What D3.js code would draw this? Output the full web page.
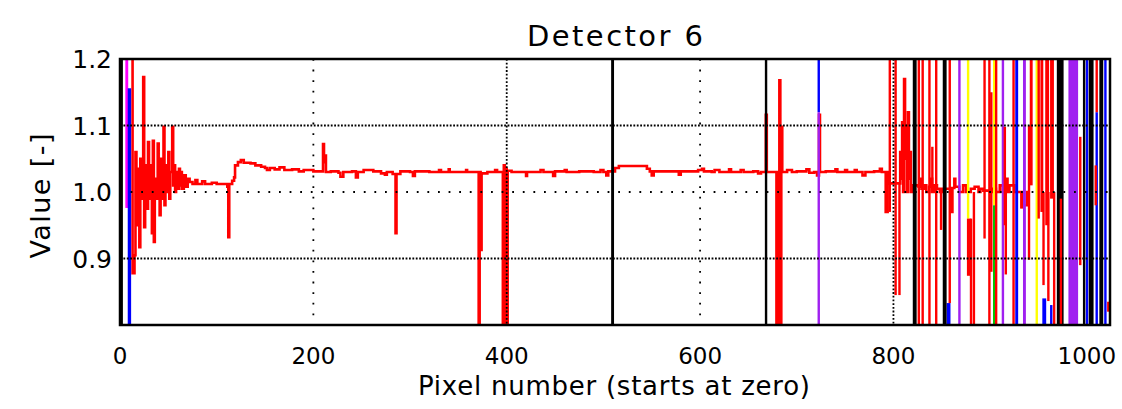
<!DOCTYPE html>
<html>
<head>
<meta charset="utf-8">
<script src="https://cdn.jsdelivr.net/npm/d3@7/dist/d3.min.js"></script>
<style>
  html, body { margin: 0; padding: 0; background: #fff; }
  svg { display: block; }
  text { font-family: "DejaVu Sans", sans-serif; fill: #000; }
</style>
</head>
<body>
<svg id="chart" width="1122" height="409"></svg>
<script>
// ---------------- data ----------------
const titleText = "Detector 6";
const xLabelText = "Pixel number (starts at zero)";
const yLabelText = "Value [-]";
const xDomain = [0, 1024];
const yDomain = [0.8, 1.2];
const xTicks = [0, 200, 400, 600, 800, 1000];
const yTicks = [0.9, 1.0, 1.1, 1.2];
const yTickLabels = ["0.9", "1.0", "1.1", "1.2"];
const xGrid = [200, 400, 600, 800];
const yGrid = [0.9, 1.0, 1.1];

// main (red) series: [pixel, value], step-after; values beyond range are off-scale
const redSeries = [
  [12,1.5],[13,0.878],[15,0.905],[16,1.06],[17,0.95],[18,1.035],[20,0.917],[21,1.05],[23,0.99],
  [24,1.173],[25,0.947],[26,1.04],[27,0.975],[29,1.075],[30,0.99],[31,1.04],[33,0.938],[34,1.077],
  [35,0.925],[36,1.02],[37,0.99],[39,1.073],[40,1.0],[41,0.965],[42,1.05],[43,0.99],[45,1.098],
  [46,0.98],[47,1.04],[48,1.0],[50,1.06],[51,0.99],[52,1.03],[54,1.098],[55,1.01],[56,1.04],
  [57,1.0],[58,1.03],[60,1.005],[61,1.035],[62,1.01],[63,1.03],[64,1.005],[66,1.025],[68,1.008],
  [70,1.02],[72,1.015],[75,1.012],[78,1.018],[80,1.012],[85,1.016],[88,1.012],[95,1.014],
  [100,1.012],[108,1.012],[111,1.008],[112,0.932],[113,1.012],[116,1.017],[118,1.022],[119,1.04],
  [122,1.045],[125,1.048],[128,1.044],[135,1.043],[140,1.04],[146,1.038],[150,1.036],[152,1.033],
  [155,1.036],[160,1.034],[165,1.037],[170,1.033],[178,1.034],[185,1.031],[190,1.033],[200,1.031],
  [209,1.031],[210,1.072],[211,1.045],[212,1.055],[213,1.03],[218,1.031],[226,1.029],[228,1.023],
  [231,1.03],[240,1.031],[244,1.022],[246,1.03],[252,1.033],[262,1.031],[270,1.028],[274,1.026],
  [276,1.03],[282,1.027],[285,0.938],[286,1.027],[290,1.031],[300,1.03],[303,1.024],[305,1.031],
  [320,1.03],[330,1.033],[332,1.03],[340,1.034],[341,1.03],[350,1.03],[358,1.033],[359,1.03],
  [370,1.03],[371,0.5],[372,1.03],[373,0.913],[374,1.028],[380,1.03],[388,1.033],[390,1.03],
  [396,0.5],[397,1.04],[398,0.5],[399,1.035],[400,0.5],[401,1.032],[405,1.03],[420,1.024],
  [421,1.03],[435,1.033],[438,1.03],[448,1.024],[450,1.031],[460,1.033],[462,1.03],[475,1.031],
  [490,1.03],[497,1.033],[500,1.03],[503,1.025],[505,1.031],[512,1.036],[516,1.039],[545,1.035],
  [548,1.031],[550,1.025],[552,1.031],[578,1.026],[580,1.031],[598,1.033],[602,1.035],[604,1.031],
  [612,1.03],[615,1.033],[620,1.03],[630,1.034],[632,1.03],[642,1.033],[645,1.03],[655,1.031],
  [660,1.028],[663,1.03],[668,1.116],[669,1.03],[679,0.5],[680,1.03],[681,0.5],[682,1.168],
  [683,0.5],[684,1.098],[685,1.03],[690,1.033],[695,1.03],[700,1.031],[710,1.034],[713,1.029],
  [718,1.03],[721,1.025],[723,1.116],[724,1.03],[730,1.031],[740,1.034],[742,1.03],[750,1.033],
  [752,1.03],[760,1.033],[762,1.03],[768,1.025],[771,1.03],[780,1.031],[786,1.035],[788,1.03],
  [792,0.97],[794,1.03],[796,1.013],[805,1.013],[807,1.06],[808,1.02],[809,1.105],[810,1.0],
  [811,1.17],[812,1.05],[813,1.1],[814,1.0],[815,1.12],[816,1.02],[817,1.06],[818,1.0],[819,1.01],
  [826,1.008],[828,1.02],[829,1.005],[832,1.01],[834,1.0],[837,1.008],[839,1.02],[840,1.0],
  [842,1.01],[845,1.005],[848,1.0],[850,1.005],[859,1.006],[860,0.97],[861,1.006],[863,1.02],
  [864,1.008],[868,1.0],[872,1.01],[875,1.0],[880,1.005],[884,1.008],[888,1.0],[890,1.005],
  [893,1.002],[900,1.0],[902,1.005],[906,1.0],[910,1.01],[913,1.0],[916,1.02],[918,1.0],
  [920,1.01],[925,1.0],[930,1.0],[934,0.98],[938,1.0],[941,1.0]
];

// off-scale excursions of the red series: [pixelStart, pixelEnd, low, high]
const redSpikes = [
  [795,797,0.97,1.2],[801,803,0.845,1.2],[805,806,0.845,1.013],
  [825,826,0.8,1.2],[829,830,0.8,1.2],[836,837,0.8,1.2],[839,840,1.0,1.068],[843,844,0.8,1.2],
  [848,849,0.943,1.0],[857,859,0.833,1.2],
  [876,880,0.874,0.96],[879,880,0.8,0.96],[882,883,0.8,1.0],[893,894,0.93,1.2],
  [898,900,0.8,1.2],[900,901,0.88,1.15],[905,906,0.8,1.2],
  [914,915,0.95,1.098],[915,917,0.876,1.0],[923,925,0.8,1.2],[931,934,0.975,1.0],
  [939,940,0.898,1.1],[941,944,1.01,1.2],
  [949,951,0.96,1.2],[952,955,0.97,1.2],[954,955,0.86,1.0],[957,961,0.95,1.2],[959,961,0.836,1.0],
  [962,966,0.99,1.2],[965,966,0.8,1.0],
  [972,973,0.8,0.99],[992,993,0.89,1.083],[1008,1009,0.98,1.04],[1009,1011,1.12,1.2],
  [1021,1023,0.82,0.835]
];

// other detector channels, visible only as off-scale excursions: [pixelStart, pixelEnd, low, high]
const blackSpikes = [
  [0,3,0.8,1.2],[508,511,0.8,1.2],[667,667.6,0.8,1.2],[820,824,0.8,1.2],[851,855,0.8,1.2],
  [969,976,0.8,1.2],[996,998,0.8,1.2],[1002,1007,0.8,1.2],[1013,1017,0.8,1.2]
];
const blueSpikes = [
  [8,11.5,0.8,1.156],[721.5,722.5,1.12,1.2],[855,859,0.8,0.833],[926,929,0.8,1.2],
  [954,958,0.8,0.84],[962,963,0.8,0.83],[999,1001,0.8,1.2],[1009,1011,0.8,1.12],[1018,1020,0.8,1.2]
];
const magentaSpikes = [[5.5,8.5,0.976,1.2]];
const purpleSpikes = [
  [721.5,722.5,0.8,1.12],[867,868,0.8,1.2],[912,913,0.8,1.2],[934,937,0.8,1.2],[981,991,0.8,1.2]
];
const yellowSpikes = [[876,877,0.96,1.2],[903,904,0.98,1.2],[947,948,0.8,1.2]];
const greenSpikes = [[903,904,0.8,0.98]];

// ---------------- drawing ----------------
const svg = d3.select("#chart");
const plot = { left: 120, right: 1110, top: 59, bottom: 325 };
const x = d3.scaleLinear().domain(xDomain).range([plot.left, plot.right]);
const y = d3.scaleLinear().domain(yDomain).range([plot.bottom, plot.top]);

svg.append("defs").append("clipPath").attr("id", "clip")
  .append("rect").attr("x", plot.left).attr("y", plot.top)
  .attr("width", plot.right - plot.left).attr("height", plot.bottom - plot.top);

const g = svg.append("g").attr("clip-path", "url(#clip)");

const line = d3.line()
  .x(d => x(d[0])).y(d => y(d[1]))
  .curve(d3.curveStepAfter);

g.append("path").datum(redSeries)
  .attr("d", line).attr("fill", "none")
  .attr("stroke", "#ff0000").attr("stroke-width", 2.6);

function drawSpikes(data, color) {
  g.append("g").selectAll("rect").data(data).join("rect")
    .attr("x", d => x(d[0]))
    .attr("width", d => Math.max(2.4, x(d[1]) - x(d[0])))
    .attr("y", d => y(Math.min(d[3], yDomain[1] + 0.01)))
    .attr("height", d => y(Math.max(d[2], yDomain[0] - 0.01)) - y(Math.min(d[3], yDomain[1] + 0.01)))
    .attr("fill", color);
}
drawSpikes(magentaSpikes, "#ff00ff");
drawSpikes(blueSpikes, "#0000ff");
drawSpikes(purpleSpikes, "#a020f0");
drawSpikes(yellowSpikes, "#ffff00");
drawSpikes(greenSpikes, "#00c800");
drawSpikes(blackSpikes, "#000000");
drawSpikes(redSpikes, "#ff0000");

// grid (dotted)
const denseX = [400, 800], denseY = [0.9, 1.1];
svg.append("g").selectAll("line").data(xGrid).join("line")
  .attr("x1", d => x(d)).attr("x2", d => x(d))
  .attr("y1", plot.top).attr("y2", plot.bottom)
  .attr("stroke", "#000").attr("stroke-width", 1.8)
  .attr("stroke-dasharray", d => denseX.includes(d) ? "1.8,1.9" : "1.8,8.8");
svg.append("g").selectAll("line").data(yGrid).join("line")
  .attr("x1", plot.left).attr("x2", plot.right)
  .attr("y1", d => y(d)).attr("y2", d => y(d))
  .attr("stroke", "#000").attr("stroke-width", 1.8)
  .attr("stroke-dasharray", d => denseY.includes(d) ? "1.8,1.6" : "1.8,8.8");

// frame
svg.append("rect")
  .attr("x", plot.left).attr("y", plot.top)
  .attr("width", plot.right - plot.left).attr("height", plot.bottom - plot.top)
  .attr("fill", "none").attr("stroke", "#000").attr("stroke-width", 2.5);

// tick labels
svg.append("g").selectAll("text").data(xTicks).join("text")
  .attr("x", d => x(d)).attr("y", 364)
  .attr("text-anchor", "middle").attr("font-size", 23)
  .text(d => d3.format("d")(d));
svg.append("g").selectAll("text").data(yTicks).join("text")
  .attr("x", 112).attr("y", d => y(d) + 9)
  .attr("text-anchor", "end").attr("font-size", 25)
  .text((d, i) => yTickLabels[i]);

// titles
svg.append("text").attr("x", 615).attr("y", 46)
  .attr("text-anchor", "middle").attr("font-size", 29)
  .attr("textLength", 176).attr("lengthAdjust", "spacing")
  .text(titleText);
svg.append("text").attr("x", 614).attr("y", 395)
  .attr("text-anchor", "middle").attr("font-size", 26)
  .attr("textLength", 392).attr("lengthAdjust", "spacing")
  .text(xLabelText);
svg.append("text")
  .attr("transform", "translate(50,196) rotate(-90)")
  .attr("text-anchor", "middle").attr("font-size", 27)
  .attr("textLength", 125).attr("lengthAdjust", "spacing")
  .text(yLabelText);
</script>
</body>
</html>
